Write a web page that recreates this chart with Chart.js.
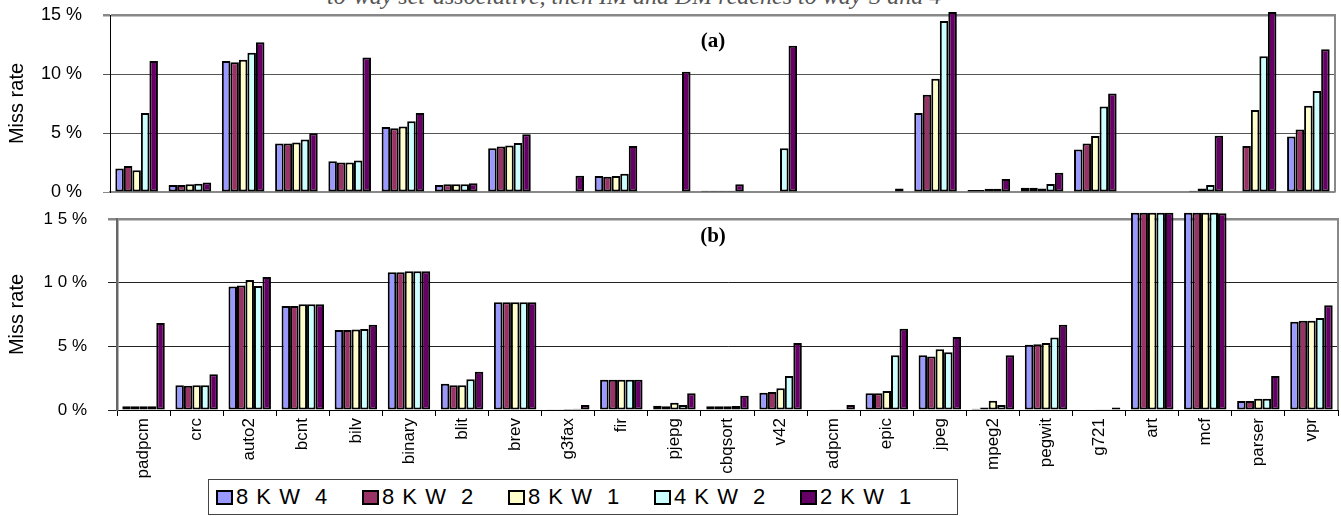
<!DOCTYPE html>
<html>
<head>
<meta charset="utf-8">
<script src="https://cdn.jsdelivr.net/npm/chart.js"></script>
<style>
  body { margin: 0; background: #fff; width: 1341px; height: 516px; overflow: hidden; position: relative; font-family: Arial, "Liberation Sans", sans-serif; }
  #capTop { position: absolute; left: 327px; top: -16px; font: italic 24px "Liberation Serif", serif; color: #555; white-space: nowrap; line-height: 24px; }
  #cA { position: absolute; left: 0; top: 0; }
  #cB { position: absolute; left: 0; top: 200px; }
  #legend { position: absolute; left: 208px; top: 479px; width: 750px; height: 36px; border: 1px solid #444; display: flex; align-items: center; padding-left: 7px; box-sizing: border-box; }
  .item { display: flex; align-items: center; width: 146px; font-size: 22px; letter-spacing: 1px; white-space: pre; }
  .sw { width: 13px; height: 11px; border: 2px solid #000; margin-right: 3px; }
</style>
</head>
<body>
<div id="capTop">to-way set-associative, then IM and DM reaches to way-3 and 4</div>
<canvas id="cA" width="1341" height="206"></canvas>
<canvas id="cB" width="1341" height="278"></canvas>
<div id="legend"></div>
<script>
// benchmarks (same order in both panels)
const labels = ['padpcm', 'crc', 'auto2', 'bcnt', 'bilv', 'binary', 'blit', 'brev', 'g3fax', 'fir', 'pjepg',
    'cbqsort', 'v42', 'adpcm', 'epic', 'jpeg', 'mpeg2', 'pegwit', 'g721', 'art', 'mcf', 'parser', 'vpr'];

const seriesNames = ['8 K W  4', '8 K W  2', '8 K W  1', '4 K W  2', '2 K W  1'];
const seriesColors = ['#9999FF', '#993366', '#FFFFCC', '#CCFFFF', '#660066'];

const yTicksA = ['0 %', '5 %', '10 %', '15 %'];
const yTicksB = ['0 %', '5 %', '1 0 %', '1 5 %'];

// panel (a) miss rate, %
const a8kw4 = [2.0, 0.6, 11.1, 4.1, 2.6, 5.5, 0.6, 3.7, 0, 1.35, 0, 0.1, 0, 0, 0, 6.7, 0.17, 0.35, 3.6, 0, 0.05, 0, 4.7];
const a8kw2 = [2.2, 0.6, 11.0, 4.1, 2.5, 5.4, 0.65, 3.85, 0, 1.3, 0, 0.1, 0, 0, 0, 8.25, 0.17, 0.35, 4.1, 0, 0.1, 3.9, 5.3];
const a8kw1 = [1.85, 0.65, 11.2, 4.2, 2.5, 5.55, 0.65, 3.95, 0, 1.35, 0, 0.1, 0, 0, 0, 9.6, 0.28, 0.3, 4.75, 0, 0.3, 6.95, 7.3];
const a4kw2 = [6.7, 0.7, 11.8, 4.45, 2.68, 6.0, 0.65, 4.15, 0, 1.55, 0.05, 0.1, 3.7, 0, 0, 14.5, 0.28, 0.68, 7.25, 0, 0.6, 11.5, 8.55];
const a2kw1 = [11.1, 0.8, 12.7, 4.97, 11.4, 6.7, 0.75, 4.9, 1.38, 3.9, 10.2, 0.65, 12.4, 0, 0.3, 15.25, 1.1, 1.63, 8.35, 0, 4.77, 15.25, 12.1];

// panel (b) miss rate, %
const b8kw4 = [0.3, 1.94, 9.7, 8.17, 6.28, 10.81, 2.07, 8.46, 0.05, 2.38, 0.34, 0.29, 1.36, 0, 1.31, 4.3, 0.1, 5.13, 0, 15.5, 15.5, 0.7, 6.94];
const b8kw2 = [0.3, 1.9, 9.77, 8.17, 6.28, 10.81, 1.94, 8.46, 0.05, 2.38, 0.3, 0.29, 1.41, 0, 1.31, 4.2, 0.2, 5.16, 0, 15.5, 15.5, 0.7, 7.0];
const b8kw1 = [0.3, 1.94, 10.2, 8.3, 6.33, 10.89, 1.94, 8.46, 0.08, 2.38, 0.57, 0.29, 1.7, 0.05, 1.5, 4.77, 0.73, 5.26, 0.05, 15.5, 15.5, 0.89, 7.0];
const b4kw2 = [0.3, 1.94, 9.74, 8.3, 6.37, 10.89, 2.41, 8.46, 0.1, 2.38, 0.39, 0.32, 2.67, 0.05, 4.3, 4.53, 0.39, 5.7, 0.05, 15.5, 15.5, 0.89, 7.23];
const b2kw1 = [6.83, 2.8, 10.45, 8.3, 6.7, 10.89, 3.0, 8.46, 0.39, 2.38, 1.31, 1.12, 5.26, 0.39, 6.39, 5.73, 4.3, 6.7, 0.2, 15.5, 15.45, 2.67, 8.22];

function makeSets(rows) {
    return rows.map((vals, i) => ({
        label: seriesNames[i],
        data: vals,
        backgroundColor: seriesColors[i],
        borderColor: '#000',
        borderWidth: 2,
        borderSkipped: false,
        barPercentage: 1.0,
        categoryPercentage: 0.8,
        clip: false
    }));
}

// fixed y axis width, and no extra top/bottom room for the tick labels
function fixY(w) {
    return s => { s.width = w; s.paddingTop = 0; s.paddingBottom = 0; };
}

// right border + panel tag
const framePlugin = {
    id: 'frame',
    beforeDatasetsDraw(chart, args, opts) {
        const ctx = chart.ctx, a = chart.chartArea;
        ctx.save();
        ctx.strokeStyle = opts.color;
        ctx.lineWidth = opts.width;
        ctx.beginPath();
        ctx.moveTo(a.right, a.top - 1);
        ctx.lineTo(a.right, a.bottom);
        ctx.stroke();
        ctx.restore();
    },
    afterDatasetsDraw(chart, args, opts) {
        const ctx = chart.ctx;
        ctx.save();
        ctx.font = 'bold 21px "Liberation Serif", serif';
        ctx.fillStyle = '#000';
        ctx.textAlign = 'center';
        ctx.textBaseline = 'middle';
        ctx.fillText(opts.tag, opts.x, opts.y);
        ctx.restore();
    }
};

const configA = {
    type: 'bar',
    data: { labels: labels, datasets: makeSets([a8kw4, a8kw2, a8kw1, a4kw2, a2kw1]) },
    options: {
        responsive: false,
        animation: false,
        layout: { padding: { top: 15, right: 6, bottom: 14, left: 0 } },
        plugins: {
            legend: { display: false },
            tooltip: { enabled: false },
            frame: { color: '#888', width: 2, tag: '(a)', x: 713, y: 42 }
        },
        scales: {
            x: {
                ticks: { display: false },
                grid: { display: false },
                border: { color: '#888', width: 1.5 },
                afterFit: s => { s.height = 0; }
            },
            y: {
                min: 0, max: 15,
                ticks: { stepSize: 5, callback: (v, i) => yTicksA[i], color: '#000', font: { size: 18 }, padding: 21 },
                grid: {
                    color: c => (c.tick.value === 15 || c.tick.value === 0) ? '#888' : '#555',
                    lineWidth: c => c.tick.value === 15 ? 2.5 : 1,
                    tickLength: 7
                },
                border: { color: '#000', width: 1 },
                title: { display: true, text: 'Miss rate', color: '#000', font: { size: 20 }, padding: { top: 5, bottom: 0 } },
                afterFit: fixY(110)
            }
        }
    },
    plugins: [framePlugin]
};

const configB = {
    type: 'bar',
    data: { labels: labels, datasets: makeSets([b8kw4, b8kw2, b8kw1, b4kw2, b2kw1]) },
    options: {
        responsive: false,
        animation: false,
        layout: { padding: { top: 19, right: 3, bottom: 0, left: 0 } },
        plugins: {
            legend: { display: false },
            tooltip: { enabled: false },
            frame: { color: '#888', width: 2, tag: '(b)', x: 713, y: 37 }
        },
        scales: {
            x: {
                ticks: { autoSkip: false, maxRotation: 90, minRotation: 90, color: '#000', font: { size: 17 }, padding: 2 },
                grid: { display: true, drawOnChartArea: false, offset: true, tickLength: 6, color: '#000' },
                border: { color: '#000', width: 1 },
                afterFit: s => { s.height = 68; }
            },
            y: {
                min: 0, max: 15,
                ticks: { stepSize: 5, callback: (v, i) => yTicksB[i], color: '#000', font: { size: 17 }, padding: 21 },
                grid: {
                    color: c => c.tick.value === 15 ? '#888' : '#222',
                    lineWidth: c => c.tick.value === 15 ? 2.5 : 1,
                    tickLength: 9
                },
                border: { color: '#666', width: 2.5 },
                title: { display: true, text: 'Miss rate', color: '#000', font: { size: 20 }, padding: { top: 5, bottom: 0 } },
                afterFit: fixY(117)
            }
        }
    },
    plugins: [framePlugin]
};

const chartA = new Chart(document.getElementById('cA'), configA);
const chartB = new Chart(document.getElementById('cB'), configB);

// legend box below panel (b)
const legend = document.getElementById('legend');
seriesNames.forEach((name, i) => {
    const item = document.createElement('div');
    item.className = 'item';
    const sw = document.createElement('span');
    sw.className = 'sw';
    sw.style.background = seriesColors[i];
    item.appendChild(sw);
    item.appendChild(document.createTextNode(name));
    legend.appendChild(item);
});
</script>
</body>
</html>
